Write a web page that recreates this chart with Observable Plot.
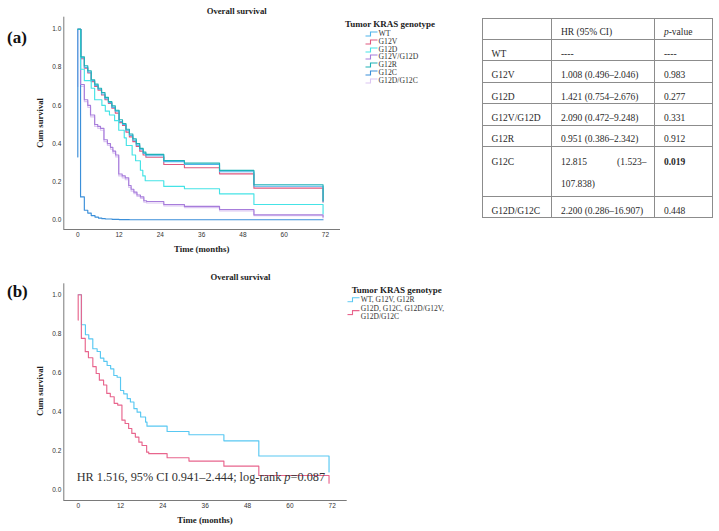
<!DOCTYPE html>
<html><head><meta charset="utf-8">
<script src="https://cdn.jsdelivr.net/npm/d3@7"></script>
<script src="https://cdn.jsdelivr.net/npm/@observablehq/plot@0.6"></script>
<style>
body{margin:0;background:#fff;}
#root{position:relative;width:719px;height:531px;overflow:hidden;font-family:"Liberation Serif",serif;color:#222;}
.abs{position:absolute;white-space:nowrap;}
.bold{font-weight:bold;}
table#hr{position:absolute;left:482px;top:17.7px;border-collapse:collapse;table-layout:fixed;font-family:"Liberation Serif",serif;font-size:9.5px;color:#2a2a2a;border:1.5px solid #8c8c8c;}
table#hr td{border:1px solid #8c8c8c;padding:0 8px 0.5px 8.5px;vertical-align:bottom;line-height:11px;}
table#hr td.top{vertical-align:top;padding-top:5px;line-height:21.6px;}
table#hr td.just{text-align:justify;text-align-last:left;white-space:normal;}
</style></head><body><div id="root"></div>
<script>
// ---------- data ----------
const xTicks = [0, 12, 24, 36, 48, 60, 72];
const yTicks = [0, 0.2, 0.4, 0.6, 0.8, 1.0];

const genotypesA = ["WT", "G12V", "G12D", "G12V/G12D", "G12R", "G12C", "G12D/G12C"];
const colorsA    = ["#4fb3ea", "#e0587f", "#45e3e6", "#a77ddb", "#1fb2b6", "#3b8fd9", "#dcc6f2"];

const survWT = [[0,1],[0.9,0.85],[1.9,0.80],[2.9,0.775],[3.9,0.73],[4.9,0.705],[5.9,0.685],[6.9,0.66],[7.9,0.635],[8.9,0.615],[9.9,0.59],[10.9,0.57],[12,0.515],[13,0.50],[14,0.47],[15,0.443],[16,0.418],[17,0.392],[18,0.37],[19,0.348],[19.8,0.336],[25,0.305],[31,0.29],[41.2,0.252],[51.2,0.176],[71.3,0.095]];
const survG12V = [[0,1],[0.9,0.845],[1.9,0.795],[2.9,0.77],[3.9,0.725],[4.9,0.70],[5.9,0.68],[6.9,0.655],[7.9,0.63],[8.9,0.61],[9.9,0.585],[10.9,0.56],[12,0.51],[13,0.495],[14,0.46],[15,0.435],[16,0.41],[17,0.385],[18,0.36],[19,0.34],[19.8,0.328],[25,0.29],[31,0.273],[41.2,0.241],[51.2,0.166],[71.3,0.093]];
const survG12D = [[0,1],[0.8,0.79],[1.9,0.73],[3.9,0.69],[4.9,0.63],[7.0,0.60],[8.0,0.57],[9.2,0.55],[10.7,0.52],[11.9,0.47],[13.5,0.43],[14.1,0.39],[15.8,0.34],[16.8,0.31],[18.2,0.26],[18.9,0.23],[19.6,0.205],[25,0.175],[31,0.163],[41.2,0.136],[51.2,0.08],[71.3,0.031]];
const survG12VG12D = [[0,1],[0.8,0.71],[1.9,0.63],[2.9,0.60],[3.7,0.55],[4.9,0.50],[5.8,0.49],[6.6,0.48],[7.6,0.42],[8.6,0.40],[9.5,0.38],[10.2,0.36],[11,0.34],[11.9,0.24],[12.9,0.23],[13.8,0.22],[14.8,0.18],[15.5,0.16],[16.3,0.145],[17.2,0.13],[18.2,0.12],[19.2,0.10],[20,0.096],[25,0.08],[31,0.07],[41.2,0.054],[51.2,0.026],[71.3,0.015]];
const survG12R = [[0,1],[0.9,0.855],[1.9,0.808],[2.9,0.782],[3.9,0.735],[4.9,0.712],[5.9,0.69],[6.9,0.668],[7.9,0.642],[8.9,0.62],[9.9,0.598],[10.9,0.575],[12,0.525],[13,0.505],[14,0.475],[15,0.45],[16,0.425],[17,0.40],[18,0.375],[19,0.355],[19.8,0.343],[25,0.311],[31,0.297],[41.2,0.259],[51.2,0.184],[71.3,0.10]];
const survG12C = [[0,0.33],[0,1],[0.8,0.12],[1.9,0.05],[2.9,0.035],[3.9,0.022],[5,0.014],[6,0.009],[7,0.006],[8,0.004],[10,0.002],[12,0.001],[15,0],[71.3,0]];
const survG12DG12C = [[0,0.70],[0,1],[0.8,0.70],[1.9,0.62],[2.9,0.59],[3.7,0.54],[4.9,0.49],[5.8,0.48],[6.6,0.47],[7.6,0.41],[8.6,0.39],[9.5,0.37],[10.2,0.35],[11,0.33],[11.9,0.23],[12.9,0.22],[13.8,0.21],[14.8,0.17],[15.5,0.15],[16.3,0.137],[17.2,0.122],[18.2,0.112],[19.2,0.092],[20,0.088],[25,0.073],[31,0.064],[41.2,0.047],[51.2,0.021],[71.3,0.01]];

const groupsB = ["WT, G12V, G12R", "G12D, G12C, G12D/G12V, G12D/G12C"];
const colorsB = ["#58c8f2", "#e8658d"];
const survGroup1 = [[0,1],[0.93,0.846],[2.05,0.795],[3.0,0.774],[4.14,0.723],[5.37,0.709],[6.3,0.675],[7.27,0.658],[8.2,0.637],[9.2,0.62],[10.1,0.586],[11.04,0.577],[12.0,0.509],[12.9,0.492],[13.9,0.467],[14.8,0.45],[15.8,0.416],[16.7,0.398],[17.7,0.373],[19.1,0.347],[19.5,0.326],[25.2,0.299],[31.4,0.282],[41.3,0.251],[51.2,0.173],[71.1,0.091]];
const survGroup2 = [[0,0.87],[0,1],[0.9,0.776],[2.0,0.708],[2.9,0.677],[4.15,0.631],[5.1,0.596],[6.0,0.562],[7.2,0.537],[8.1,0.494],[9.1,0.477],[10.2,0.443],[11.2,0.434],[12.4,0.357],[13.3,0.34],[14.3,0.314],[15.2,0.289],[16.2,0.27],[17.2,0.244],[18.1,0.227],[19.4,0.193],[20,0.185],[25.2,0.164],[31.4,0.147],[41.3,0.121],[51.2,0.073],[71.1,0.034]];

const tblGenotype = ["WT", "G12V", "G12D", "G12V/G12D", "G12R", "G12C", "G12D/G12C"];
const tblHR = ["----", "1.008 (0.496–2.046)", "1.421 (0.754–2.676)", "2.090 (0.472–9.248)", "0.951 (0.386–2.342)", "12.815 (1.523–107.838)", "2.200 (0.286–16.907)"];
const tblP  = ["----", "0.983", "0.277", "0.331", "0.912", "0.019", "0.448"];
const annotB = ["HR 1.516, 95% CI 0.941–2.444; log-rank ", "p", "=0.087"];

// ---------- helpers ----------
const root = document.getElementById("root");
function place(html, x, y, css = "", anchor = "center") {
  const d = document.createElement("div");
  d.className = "abs";
  d.innerHTML = html;
  const tx = anchor === "center" ? "-50%" : "0";
  d.style.cssText = `left:${x}px;top:${y}px;transform:translate(${tx},-50%);` + css;
  root.appendChild(d);
  return d;
}
function sym(color) {
  return `<svg width="13" height="6" style="display:block;flex:none"><path d="M0.5,5 H5.5 V1 H12.5" fill="none" stroke="${color}" stroke-width="1.1"/></svg>`;
}
function toRows(series) {
  return Object.entries(series).flatMap(([g, pts]) => pts.map(([t, s]) => ({t, s, g})));
}

function kmPlot({data, domain, range, xDom, yDom, width, height, mL, mR, mT, mB}) {
  return Plot.plot({
    width, height, marginLeft: mL, marginRight: mR, marginTop: mT, marginBottom: mB,
    x: {domain: xDom, label: null},
    y: {domain: yDom, label: null},
    color: {domain, range},
    style: {background: "none", fontFamily: "'Liberation Sans', Arial, sans-serif", color: "#333", overflow: "visible"},
    marks: [
      Plot.ruleY([yDom[0]], {stroke: "#7a7a7a", strokeWidth: 1}),
      Plot.ruleX([xDom[0]], {stroke: "#7a7a7a", strokeWidth: 1}),
      Plot.axisX({ticks: xTicks, tickSize: 0, tickPadding: 3, fontSize: 6.5, tickFormat: d => d, label: null}),
      Plot.axisY({ticks: yTicks, tickSize: 0, tickPadding: 2.5, fontSize: 6.5, tickFormat: d3.format(".1f"), label: null}),
      Plot.line(data, {x: "t", y: "s", z: "g", stroke: "g", curve: "step-after", strokeWidth: 1.15})
    ]
  });
}

// ---------- panel (a) ----------
const dataA = toRows({
  "G12D/G12C": survG12DG12C, "G12C": survG12C, "G12V": survG12V, "WT": survWT,
  "G12V/G12D": survG12VG12D, "G12D": survG12D, "G12R": survG12R
});
const svgA = kmPlot({data: dataA, domain: genotypesA, range: colorsA,
  xDom: [-4.07, 76.37], yDom: [-0.051, 1.063], width: 345, height: 260, mL: 63.3, mR: 5, mT: 16.7, mB: 31});
svgA.style.cssText += "position:absolute;left:0;top:0;";
root.appendChild(svgA);

place("(a)", 7, 38, "font-size:17px;font-weight:bold;color:#111;", "left");
place("Overall survival", 236.7, 11, "font-size:8.7px;font-weight:bold;");
place("Cum survival", 40, 123.3, "font-size:8.6px;font-weight:bold;transform:translate(-50%,-50%) rotate(-90deg);");
place("Time (months)", 201.7, 249, "font-size:8.8px;font-weight:bold;");
place("Tumor KRAS genotype", 345, 24, "font-size:9px;font-weight:bold;", "left");
genotypesA.forEach((g, i) => {
  place(`<div style="display:flex;align-items:center;gap:0.5px">${sym(colorsA[i])}<span>${g}</span></div>`,
    365, 34 + i * 7.83, "font-size:7.7px;line-height:8px;color:#333;", "left");
});

// table
const tbl = document.createElement("table");
tbl.id = "hr";
const colW = [69.4, 103, 57.6];
let html = "<colgroup>" + colW.map(w => `<col style="width:${w}px">`).join("") + "</colgroup>";
html += `<tr style="height:21.3px"><td></td><td>HR (95% CI)</td><td><i>p</i>-value</td></tr>`;
tblGenotype.forEach((g, i) => {
  const wide = tblHR[i].length > 21;
  const sig = +tblP[i] < 0.05;
  const p = sig ? `<b>${tblP[i]}</b>` : tblP[i];
  if (wide) {
    html += `<tr style="height:42.6px"><td class="top">${g}</td><td class="top just">${tblHR[i]}</td><td class="top">${p}</td></tr>`;
  } else {
    html += `<tr style="height:21.4px"><td>${g}</td><td>${tblHR[i]}</td><td>${p}</td></tr>`;
  }
});
tbl.innerHTML = html;
root.appendChild(tbl);

// ---------- panel (b) ----------
const dataB = toRows({[groupsB[0]]: survGroup1, [groupsB[1]]: survGroup2});
const svgB = kmPlot({data: dataB, domain: groupsB, range: colorsB,
  xDom: [-4.08, 76.25], yDom: [-0.055, 1.056], width: 360, height: 265, mL: 63.3, mR: 13.3, mT: 18.3, mB: 30});
svgB.style.cssText += "position:absolute;left:0;top:265px;";
root.appendChild(svgB);

place("(b)", 7, 291.7, "font-size:17px;font-weight:bold;color:#111;", "left");
place("Overall survival", 240.5, 276.7, "font-size:8.7px;font-weight:bold;");
place("Cum survival", 40, 391, "font-size:8.6px;font-weight:bold;transform:translate(-50%,-50%) rotate(-90deg);");
place("Time (months)", 205, 520, "font-size:8.8px;font-weight:bold;");
place("Tumor KRAS genotype", 351.7, 290, "font-size:9px;font-weight:bold;", "left");
groupsB.forEach((g, i) => {
  place(`<div style="display:flex;align-items:center;gap:1px">${sym(colorsB[i])}<span style="white-space:normal;width:90px;display:block">${g}</span></div>`,
    346.7, i === 0 ? 300 : 312.5, "font-size:7.5px;line-height:8.4px;color:#333;", "left");
});
place(`${annotB[0]}<i>${annotB[1]}</i>${annotB[2]}`, 76.7, 477, "font-size:12.3px;color:#333;", "left");
</script></body></html>
